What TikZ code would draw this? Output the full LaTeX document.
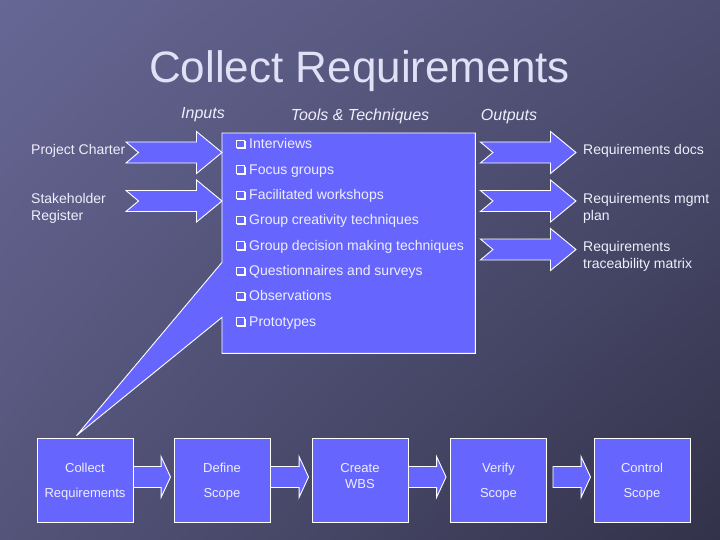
\documentclass[tikz,border=0pt]{standalone}
\usepackage{fontspec}
\setmainfont{Liberation Sans}
\usetikzlibrary{calc,shadings}
\definecolor{bgA}{RGB}{102,103,148}
\definecolor{bgB}{RGB}{78,78,114}
\definecolor{bgC}{RGB}{84,84,122}
\definecolor{bgD}{RGB}{50,50,74}
\definecolor{boxfill}{RGB}{102,102,255}
\definecolor{txt}{RGB}{238,238,252}
\definecolor{ttl}{RGB}{224,224,246}
\newcommand\NotchArrow[2]{%
  \draw[blk] ($(#1)+(0,-10.5)$) -- ($(#2)+(-25.5,-10.5)$) -- ($(#2)+(-25.5,-21)$) -- (#2)
    -- ($(#2)+(-25.5,21)$) -- ($(#2)+(-25.5,10.5)$) -- ($(#1)+(0,10.5)$) -- ($(#1)+(12.5,0)$) -- cycle;}
\newcommand\FlowArrow[2]{%
  \draw[blk] ($(#1)+(0,-10.5)$) -- ($(#2)+(-9.5,-10.5)$) -- ($(#2)+(-9.5,-20.5)$) -- (#2)
    -- ($(#2)+(-9.5,20.5)$) -- ($(#2)+(-9.5,10.5)$) -- ($(#1)+(0,10.5)$) -- cycle;}
\newcommand\stxt[2]{\raisebox{#1}[0pt][0pt]{\begin{tabular}{@{}c@{}}#2\end{tabular}}}
\begin{document}
\begin{tikzpicture}[x=1pt,y=-1pt,
  blk/.style={fill=boxfill,draw=white,line width=0.9pt,line join=miter},
  lbl/.style={text=txt,font=\fontsize{14}{17}\selectfont,inner sep=0pt,align=left},
  hdr/.style={text=txt,font=\fontsize{16}{19}\selectfont\itshape,inner sep=0pt,anchor=base},
  item/.style={text=txt,font=\fontsize{14}{17}\selectfont,inner sep=0pt,anchor=base west},
  chk/.style={draw=white,line width=0.8pt},
  chks/.style={draw=white,line width=1.6pt},
  step box/.style={fill=boxfill,draw=white,line width=0.9pt,minimum width=96pt,minimum height=84pt,
    inner sep=0pt,align=center,text=txt,font=\fontsize{13}{25}\selectfont}]
\useasboundingbox (0,0) rectangle (720,540);
\shade[upper left=bgA,upper right=bgB,lower left=bgC,lower right=bgD] (0,0) rectangle (720,540);

% title and headers
\node[text=ttl,font=\fontsize{44}{50}\selectfont,inner sep=0pt,anchor=base] (title) at (359.5,83) {Collect Requirements};
\node[hdr] (hin) at (203,118.5) {Inputs};
\node[hdr] (htt) at (360,120.5) {Tools \& Techniques};
\node[hdr] (hout) at (509,120.5) {Outputs};

% process boxes
\node[step box] (b1) at (85,480) {\stxt{-3.3pt}{Collect\\Requirements}};
\node[step box] (b2) at (222,480) {\stxt{-3.3pt}{Define\\Scope}};
\node[step box,font=\fontsize{13}{16}\selectfont] (b3) at (360,480) {\stxt{0pt}{Create\\WBS}};
\node[step box] (b4) at (498.5,480) {\stxt{-3.3pt}{Verify\\Scope}};
\node[step box] (b5) at (642,480) {\stxt{-3.3pt}{Control\\Scope}};

% tools box (callout)
\node[minimum width=253pt,minimum height=220pt,inner sep=0pt,anchor=north west] (tools) at (222,133) {};
\coordinate (ptip) at ($(b1.north west)+(40,-2)$);
\draw[blk] (tools.north west) -- (tools.north east) -- (tools.south east) -- (tools.south west)
  -- ($(tools.south west)+(0,-36)$) -- (ptip) -- ($(tools.south west)+(0,-91)$) -- cycle;

\foreach \t [count=\i] in {Interviews,Focus groups,Facilitated workshops,Group creativity techniques,
  Group decision making techniques,Questionnaires and surveys,Observations,Prototypes}{
  \node[item] (it\i) at (249,{149+25.3*(\i-1)}) {\t};
  \draw[chk] ($(it\i.base west)+(-12.5,-8.5)$) rectangle ($(it\i.base west)+(-5,-1.2)$);
  \draw[chks] ($(it\i.base west)+(-4.2,-7.5)$) -- ($(it\i.base west)+(-4.2,-0.4)$) -- ($(it\i.base west)+(-11.8,-0.4)$);
}

% inputs
\node[lbl,anchor=base west] (pc) at (31,155) {Project Charter};
\node[lbl,anchor=west] (sr) at (31,208) {Stakeholder\\Register};
\coordinate (i1s) at (126,152.5);
\coordinate (i1e) at (tools.west |- i1s);
\coordinate (i2s) at (126,201);
\coordinate (i2e) at (tools.west |- i2s);
\NotchArrow{i1s}{i1e}
\NotchArrow{i2s}{i2e}

% outputs
\node[lbl,anchor=base west] (o1) at (583,155) {Requirements docs};
\node[lbl,anchor=west] (o2) at (583,208) {Requirements mgmt\\plan};
\node[lbl,anchor=west] (o3) at (583,256) {Requirements\\traceability matrix};
\coordinate (o1s) at ($(tools.east |- 0,152.5)+(5,0)$);
\coordinate (o1e) at (576,152.5);
\coordinate (o2s) at ($(tools.east |- 0,201)+(5,0)$);
\coordinate (o2e) at (576,201);
\coordinate (o3s) at ($(tools.east |- 0,249.5)+(5,0)$);
\coordinate (o3e) at (576,249.5);
\NotchArrow{o1s}{o1e}
\NotchArrow{o2s}{o2e}
\NotchArrow{o3s}{o3e}

% flow arrows
\coordinate (a1s) at ($(b1.east)+(0,-3)$);  \coordinate (a1e) at ($(b2.west)+(-3,-3)$);
\coordinate (a2s) at ($(b2.east)+(0,-3)$);  \coordinate (a2e) at ($(b3.west)+(-3,-3)$);
\coordinate (a3s) at ($(b3.east)+(0,-3)$);  \coordinate (a3e) at ($(b4.west)+(-4,-3)$);
\coordinate (a4s) at ($(b4.east)+(6,-3)$);  \coordinate (a4e) at ($(b5.west)+(-3,-3)$);
\FlowArrow{a1s}{a1e}
\FlowArrow{a2s}{a2e}
\FlowArrow{a3s}{a3e}
\FlowArrow{a4s}{a4e}
\end{tikzpicture}
\end{document}
